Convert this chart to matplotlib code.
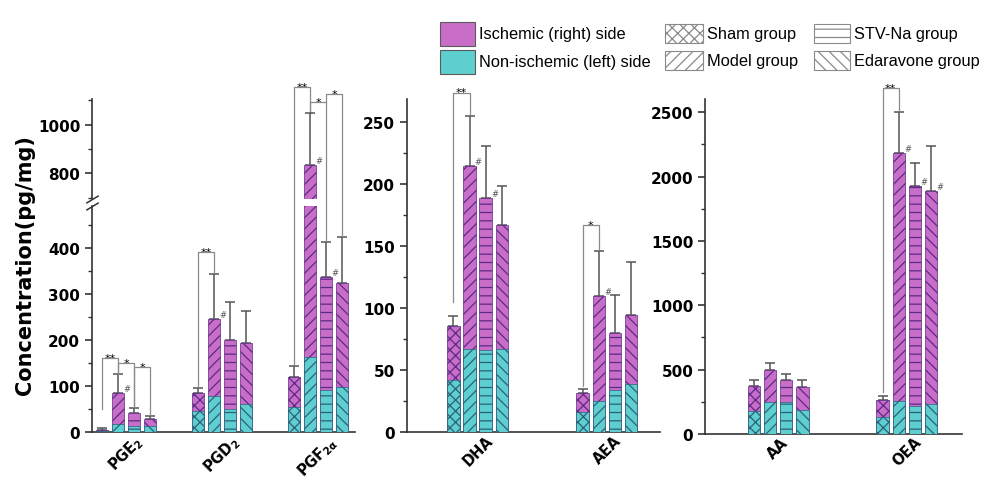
import matplotlib.pyplot as plt
from matplotlib.patches import Rectangle
from matplotlib.ticker import MultipleLocator

plt.rcParams['font.family'] = 'DejaVu Sans'
plt.rcParams['mathtext.default'] = 'bf'
plt.rcParams['hatch.linewidth'] = 0.9

groups = ['Sham group', 'Model group', 'STV-Na group', 'Edaravone group']
sides = ['Ischemic (right) side', 'Non-ischemic (left) side']

# left panel (broken y axis)
p1_names = ['PGE$_2$', 'PGD$_2$', 'PGF$_{2\\alpha}$']
p1_isch = [[5, 85, 41, 28], [84, 246, 199, 193], [119, 834, 336, 324]]
p1_non = [[3, 17, 14, 12], [46, 79, 51, 61], [54, 162, 91, 97]]
p1_err = [[3, 41, 11, 6], [11, 97, 84, 69], [25, 213, 76, 99]]

p2_names = ['DHA', 'AEA']
p2_isch = [[86, 215, 189, 167], [32, 110, 80, 95]]
p2_non = [[42, 67, 66, 67], [16, 25, 34, 39]]
p2_err = [[8, 40, 42, 32], [3, 36, 31, 42]]

p3_names = ['AA', 'OEA']
p3_isch = [[375, 497, 422, 363], [267, 2183, 1929, 1890]]
p3_non = [[181, 246, 246, 185], [130, 259, 220, 233]]
p3_err = [[47, 52, 44, 59], [31, 321, 174, 350]]

# brackets: ((group, bar), (group, bar), top, bottom of leg a, bottom of leg b, label)
p1_sig = [((0, 0), (0, 1), 161, 50, 126, '**'), ((0, 1), (0, 2), 150, 126, 55, '*'),
          ((0, 2), (0, 3), 141, 55, 37, '*'),
          ((1, 0), (1, 1), 392, 98, 345, '**'),
          ((2, 0), (2, 1), 1154, 148, 1050, '**'), ((2, 1), (2, 2), 1092, 1050, 415, '*'),
          ((2, 2), (2, 3), 1126, 1092, 426, '*')]
p2_sig = [((0, 0), (0, 1), 274, 105, 257, '**'), ((1, 0), (1, 1), 167, 37, 148, '*')]
p3_sig = [((1, 0), (1, 1), 2686, 326, 2520, '**')]
# bars marked with '#'
p1_hash = [(0, 1), (1, 1), (2, 1), (2, 2)]
p2_hash = [(0, 1), (0, 2), (1, 1)]
p3_hash = [(1, 1), (1, 2), (1, 3)]

magenta = '#c86ec8'
cyan = '#5ecfcf'
hatches = ['xxx', '///', '--', '\\\\\\']
W, H = 989, 481

fig = plt.figure(figsize=(W / 100, H / 100), dpi=100)


def box(x0, y0, x1, y1):
    return [x0 / W, 1 - y1 / H, (x1 - x0) / W, (y1 - y0) / H]


def style(ax, major, minor):
    ax.patch.set_visible(False)
    for s in ['top', 'right']:
        ax.spines[s].set_visible(False)
    for s in ['left', 'bottom']:
        ax.spines[s].set_color('#333333')
        ax.spines[s].set_linewidth(1.2)
    ax.yaxis.set_major_locator(MultipleLocator(major))
    ax.yaxis.set_minor_locator(MultipleLocator(minor))
    ax.tick_params(axis='y', which='major', length=5, width=1.2, labelsize=11, color='#333333')
    ax.tick_params(axis='y', which='minor', length=3, width=1.0, color='#333333')
    ax.tick_params(axis='x', length=0, pad=0)
    for lab in ax.get_yticklabels():
        lab.set_fontweight('bold')


def draw_bars(ax, isch, non, err, step):
    for g in range(len(isch)):
        for i in range(4):
            x = g * step + i
            ax.bar(x, isch[g][i], width=0.78, color=magenta, edgecolor='#5b2a86',
                   hatch=hatches[i], linewidth=0.5, zorder=2)
            ax.bar(x, non[g][i], width=0.78, color=cyan, edgecolor='#2d5f7c',
                   hatch=hatches[i], linewidth=0.5, zorder=3)
            ax.errorbar(x, isch[g][i], yerr=[[0], [err[g][i]]], fmt='none', ecolor='#555555',
                        elinewidth=1.1, capsize=3.5, capthick=1.1, zorder=1)


def marks(ax, isch, step, hashes, sig, conv=lambda v: v):
    for g, i in hashes:
        ax.text(g * step + i + 0.32, conv(isch[g][i]), '#', fontsize=6, color='#555555',
                ha='left', va='bottom', zorder=5, clip_on=False)
    for (ga, ia), (gb, ib), top, ya, yb, lab in sig:
        xa, xb = ga * step + ia, gb * step + ib
        ys = [conv(ya), conv(top), conv(top), conv(yb)]
        ax.plot([xa, xa, xb, xb], ys, color='#8a8a8a', lw=0.9, clip_on=False, zorder=4)
        ax.annotate(lab, xy=((xa + xb) / 2, ys[1]), xytext=(0, -3.5),
                    textcoords='offset points', ha='center', va='bottom', fontsize=8,
                    annotation_clip=False)


def xlabels(ax, names, step):
    ax.set_xticks([step * g + 1.5 for g in range(len(names))], names, rotation=45,
                  ha='center', fontsize=10.5, fontweight='bold')


# ---- panel 1 ----
ax1 = fig.add_axes(box(92, 206.7, 355, 433))
ax1u = fig.add_axes(box(92, 100, 355, 200))
for ax in (ax1, ax1u):
    draw_bars(ax, p1_isch, p1_non, p1_err, 6)
    ax.set_xlim(-0.625, 15.81)
ax1.set_ylim(0, 492)
ax1u.set_ylim(694, 1106)
style(ax1, 100, 50)
style(ax1u, 200, 100)
ax1u.spines['bottom'].set_visible(False)
ax1u.set_xticks([])
xlabels(ax1, p1_names, 6)


def to_lower(v):
    if v <= 492:
        return v
    d = ax1u.transData.transform((0, v))
    return ax1.transData.inverted().transform(d)[1]


marks(ax1, p1_isch, 6, p1_hash, p1_sig, to_lower)

# break marks on the left spine
kw = dict(marker=[(-1, -0.6), (1, 0.6)], markersize=9, linestyle='none', color='#333333',
          mec='#333333', mew=1.1, clip_on=False)
ax1.plot([0], [1], transform=ax1.transAxes, **kw)
ax1u.plot([0], [0], transform=ax1u.transAxes, **kw)

# ---- panel 2 ----
ax2 = fig.add_axes(box(407, 100, 660, 433.3))
draw_bars(ax2, p2_isch, p2_non, p2_err, 8)
ax2.set_xlim(-2.88, 12.79)
ax2.set_ylim(0, 268.8)
style(ax2, 50, 25)
xlabels(ax2, p2_names, 8)
marks(ax2, p2_isch, 8, p2_hash, p2_sig)

# ---- panel 3 ----
ax3 = fig.add_axes(box(705, 100, 962, 435))
draw_bars(ax3, p3_isch, p3_non, p3_err, 8)
ax3.set_xlim(-3.05, 12.93)
ax3.set_ylim(0, 2603)
style(ax3, 500, 250)
xlabels(ax3, p3_names, 8)
marks(ax3, p3_isch, 8, p3_hash, p3_sig)

fig.text(25 / W, 1 - 265 / H, 'Concentration(pg/mg)', rotation=90, ha='center',
         va='center', fontsize=15, fontweight='bold')

# ---- legend ----
legend_items = [(440, 23, 475, 47, magenta, '#5b5b5b', None, sides[0]),
                (440, 51, 475, 75, cyan, '#5b5b5b', None, sides[1]),
                (665, 25, 703, 44, 'white', '#8a8a8a', hatches[0], groups[0]),
                (665, 52, 703, 71, 'white', '#8a8a8a', hatches[1], groups[1]),
                (814, 25, 850, 44, 'white', '#8a8a8a', hatches[2], groups[2]),
                (814, 52, 850, 71, 'white', '#8a8a8a', hatches[3], groups[3])]
for x0, y0, x1, y1, fc, ec, ht, lab in legend_items:
    fig.add_artist(Rectangle((x0 / W, 1 - y1 / H), (x1 - x0) / W, (y1 - y0) / H,
                             transform=fig.transFigure, facecolor=fc, edgecolor=ec,
                             hatch=ht, linewidth=0.8))
    fig.text((x1 + 4) / W, 1 - (y0 + y1) / 2 / H, lab, ha='left', va='center',
             fontsize=11.8, family='Liberation Sans')

fig.savefig('out.png', dpi=100)
